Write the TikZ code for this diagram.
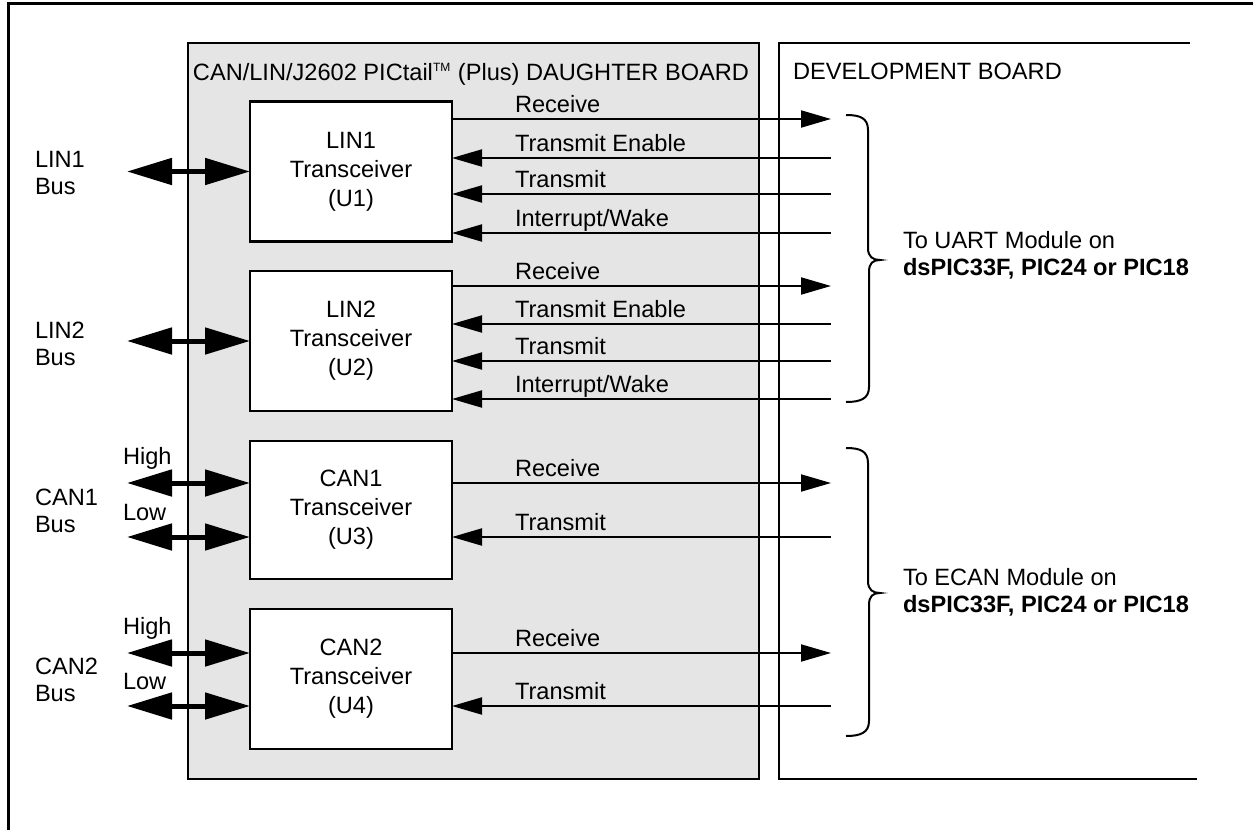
\documentclass[tikz,border=0pt]{standalone}
\usepackage{fontspec}
\setmainfont{Liberation Sans}
\usetikzlibrary{arrows.meta}
\definecolor{boardgray}{RGB}{229,229,229}
\newcommand\drawmybrace[3]{%
  \draw[bracestyle] (846,#1) .. controls (860,#1) and (868,#1+3) .. (868,#1+15)
    -- (868,#2-12) .. controls (868,#2-3) and (873,#2) .. (880,#2)
    .. controls (873,#2) and (869,#2+3) .. (869,#2+12)
    -- (869,#3-15) .. controls (869,#3-3) and (860,#3) .. (846,#3);}
\begin{document}
\begin{tikzpicture}[x=0.5pt,y=-0.5pt,
  every node/.style={font=\fontsize{11.8}{14.5}\selectfont, inner sep=0pt, outer sep=0pt},
  frame/.style={line width=1.5pt},
  boardstyle/.style={draw, fill=boardgray, line width=1.4pt},
  devline/.style={line width=1.4pt},
  tbox/.style={draw, fill=white, line width=1.3pt, minimum width=101pt, minimum height=70pt, align=center},
  sig/.style={line width=1pt},
  sigtip/.style={sig, -{Triangle[length=15pt,width=8.5pt]}},
  bus/.style={line width=2.5pt, {Triangle[length=22.5pt,width=13pt]}-{Triangle[length=22.5pt,width=13pt]}},
  siglabel/.style={anchor=base west},
  buslabel/.style={anchor=base west, align=left, font=\fontsize{11.8}{13.3}\selectfont},
  bracestyle/.style={line width=1pt},
  bracetext/.style={anchor=base west, align=left, font=\fontsize{11.8}{13.5}\selectfont}]
\useasboundingbox (0,0) rectangle (1253,830);

% outer frame
\draw[frame] (8.5,830) -- (8.5,3) -- (1253,3);

% daughter board
\node[boardstyle, minimum width=285.5pt, minimum height=368pt] (db) at (473.5,411) {};
\node[anchor=base] (dbtitle) at (471,80) {CAN/LIN/J2602 PICtail\textsuperscript{\fontsize{6}{7}\selectfont TM} (Plus) DAUGHTER BOARD};

% development board
\coordinate (dv1) at (1190,43);
\coordinate (dv2) at (779,43);
\coordinate (dv3) at (779,779);
\coordinate (dv4) at (1197,779);
\draw[devline] (dv1) -- (dv2) -- (dv3) -- (dv4);
\node[anchor=base west] (dvtitle) at (793,79) {DEVELOPMENT BOARD};

% transceivers
\node[tbox] (u1) at (351,171.5) {LIN1\\Transceiver\\(U1)};
\node[tbox] (u2) at (351,341) {LIN2\\Transceiver\\(U2)};
\node[tbox, minimum height=69pt] (u3) at (351,510) {CAN1\\Transceiver\\(U3)};
\node[tbox] (u4) at (351,679) {CAN2\\Transceiver\\(U4)};

% right-hand signal end points
\coordinate (a1) at (831,119);
\coordinate (a2) at (831,158);
\coordinate (a3) at (831,194);
\coordinate (a4) at (831,233);
\coordinate (b1) at (831,286);
\coordinate (b2) at (831,324);
\coordinate (b3) at (831,361);
\coordinate (b4) at (831,399);
\coordinate (c1) at (831,483);
\coordinate (c2) at (831,537);
\coordinate (d1) at (831,653);
\coordinate (d2) at (831,706);

% LIN1 signals
\draw[sigtip] (u1.east |- a1) -- (a1);
\draw[sigtip] (a2) -- (u1.east |- a2);
\draw[sigtip] (a3) -- (u1.east |- a3);
\draw[sigtip] (a4) -- (u1.east |- a4);
\node[siglabel] (la1) at (515,112) {Receive};
\node[siglabel] (la2) at (515,151) {Transmit Enable};
\node[siglabel] (la3) at (515,187) {Transmit};
\node[siglabel] (la4) at (515,226) {Interrupt/Wake};

% LIN2 signals
\draw[sigtip] (u2.east |- b1) -- (b1);
\draw[sigtip] (b2) -- (u2.east |- b2);
\draw[sigtip] (b3) -- (u2.east |- b3);
\draw[sigtip] (b4) -- (u2.east |- b4);
\node[siglabel] (lb1) at (515,279) {Receive};
\node[siglabel] (lb2) at (515,317) {Transmit Enable};
\node[siglabel] (lb3) at (515,354) {Transmit};
\node[siglabel] (lb4) at (515,392) {Interrupt/Wake};

% CAN1 signals
\draw[sigtip] (u3.east |- c1) -- (c1);
\draw[sigtip] (c2) -- (u3.east |- c2);
\node[siglabel] (lc1) at (515,476) {Receive};
\node[siglabel] (lc2) at (515,530) {Transmit};

% CAN2 signals
\draw[sigtip] (u4.east |- d1) -- (d1);
\draw[sigtip] (d2) -- (u4.east |- d2);
\node[siglabel] (ld1) at (515,646) {Receive};
\node[siglabel] (ld2) at (515,699) {Transmit};

% bus connections
\coordinate (p1) at (127,171.5);
\coordinate (p2) at (127,341);
\coordinate (p3) at (127,483);
\coordinate (p4) at (127,537);
\coordinate (p5) at (127,653);
\coordinate (p6) at (127,706);
\draw[bus] (p1) -- (u1.west |- p1);
\draw[bus] (p2) -- (u2.west |- p2);
\draw[bus] (p3) -- (u3.west |- p3);
\draw[bus] (p4) -- (u3.west |- p4);
\draw[bus] (p5) -- (u4.west |- p5);
\draw[bus] (p6) -- (u4.west |- p6);

\node[buslabel] (bl1) at (35,194) {LIN1\\Bus};
\node[buslabel] (bl2) at (35,365) {LIN2\\Bus};
\node[buslabel] (bl3) at (35,532) {CAN1\\Bus};
\node[buslabel] (bl4) at (35,701) {CAN2\\Bus};
\node[siglabel] (h1) at (123,464) {High};
\node[siglabel] (lo1) at (123,520) {Low};
\node[siglabel] (h2) at (123,634) {High};
\node[siglabel] (lo2) at (123,689) {Low};

% braces
\drawmybrace{115}{260}{402}
\drawmybrace{448}{593}{736}
\node[bracetext] (uart) at (903,275) {To UART Module on\\\textbf{dsPIC33F, PIC24 or PIC18}};
\node[bracetext] (ecan) at (903,612) {To ECAN Module on\\\textbf{dsPIC33F, PIC24 or PIC18}};
\end{tikzpicture}
\end{document}
